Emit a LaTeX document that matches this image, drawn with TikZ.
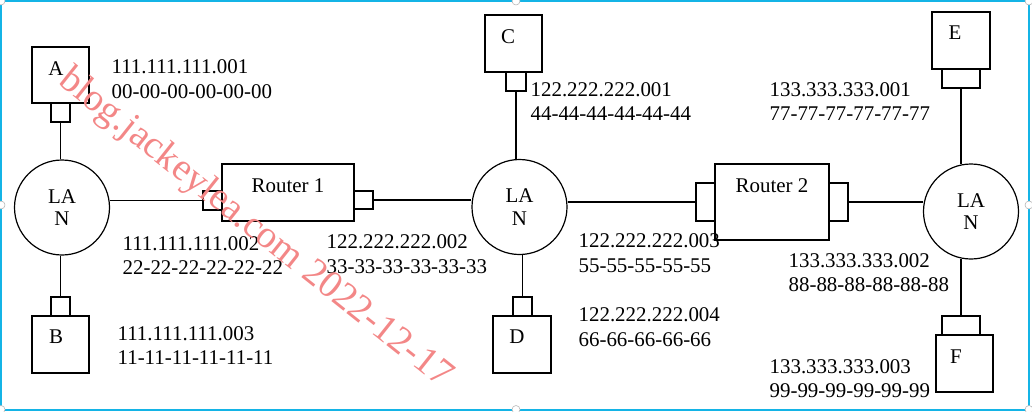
\documentclass[tikz,border=0pt]{standalone}
\usepackage{fontspec}
\setmainfont{Liberation Serif}
\usetikzlibrary{fit}
\definecolor{framec}{RGB}{20,180,230}
\definecolor{wmc}{RGB}{243,135,135}
\begin{document}
\begin{tikzpicture}[x=0.75pt,y=-0.75pt,line width=0.9pt,
  box/.style={draw,rectangle,inner sep=0pt},
  lan/.style={draw,circle,minimum size=71.25pt,inner sep=0pt,align=center,
    font=\fontsize{15.7}{17}\selectfont},
  txt/.style={inner sep=0pt,font=\fontsize{15.7}{18.5}\selectfont},
  addr/.style={txt,anchor=west,align=left},
  handle/.style={circle,fill=white,draw=gray!60,line width=0.4pt,minimum size=6pt,inner sep=0pt}]
\useasboundingbox (0,0) rectangle (1032,411);
% selection frame
\draw[framec,line width=1.5pt] (1,1) rectangle (1029,409.5);
\node[handle] (h1) at (1,1) {};
\node[handle] (h2) at (516,1) {};
\node[handle] (h3) at (1029,1) {};
\node[handle] (h4) at (1,205) {};
\node[handle] (h5) at (1029,205) {};
\node[handle] (h6) at (1,409.5) {};
\node[handle] (h7) at (516,409.5) {};
\node[handle] (h8) at (1029,409.5) {};
% hosts
\node[box,fit={(32,47) (89,103)}] (A) {};
\node[box,fit={(51,103) (70,122)}] (Ap) {};
\node[box,fit={(32,316) (89,373)}] (B) {};
\node[box,fit={(51,297) (70,316)}] (Bp) {};
\node[box,fit={(485,15) (542,72)}] (C) {};
\node[box,fit={(506,72) (526,91)}] (Cp) {};
\node[box,fit={(493,316) (551,373)}] (D) {};
\node[box,fit={(513,297) (532,316)}] (Dp) {};
\node[box,fit={(932,12) (990,69)}] (E) {};
\node[box,fit={(942,69) (980,88)}] (Ep) {};
\node[box,fit={(936,335) (993,392)}] (F) {};
\node[box,fit={(942,316) (980,335)}] (Fp) {};
\node[txt] (tA) at (56,69) {A};
\node[txt] (tB) at (56,337) {B};
\node[txt] (tC) at (508,37) {C};
\node[txt] (tD) at (517,337) {D};
\node[txt] (tE) at (955,33) {E};
\node[txt] (tF) at (956,357) {F};
% routers
\node[box,fit={(222,164) (354,221)}] (R1) {};
\node[box,fit={(203,191) (222,210)}] (R1a) {};
\node[box,fit={(354,191) (373,209)}] (R1b) {};
\node[txt] (tR1) at (288,186) {Router 1};
\node[box,fit={(715,164) (829,240)}] (R2) {};
\node[box,fit={(696,183) (715,221)}] (R2a) {};
\node[box,fit={(829,183) (848,221)}] (R2b) {};
\node[txt] (tR2) at (772,186) {Router 2};
% LANs
\node[lan] (L1) at (62,207.5) {LA\\N};
\node[lan] (L2) at (519.5,207) {LA\\N};
\node[lan] (L3) at (971,211.5) {LA\\N};
% links
\draw (Ap.south) -- (Ap.south |- L1.north);
\draw (Bp.north) -- (Bp.north |- L1.south);
\draw (R1a.west) -- (R1a.west -| L1.east);
\draw (R1b.east) -- (R1b.east -| L2.west);
\draw (Cp.south) -- (Cp.south |- L2.north);
\draw (Dp.north) -- (Dp.north |- L2.south);
\draw (L2.east |- R2a.west) -- (R2a.west);
\draw (R2b.east) -- (R2b.east -| L3.west);
\draw (Ep.south) -- ([yshift=-0.8pt]Ep.south |- L3.north);
\draw (Fp.north) -- ([yshift=0.8pt]Fp.north |- L3.south);
% addresses
\node[addr] (a1) at (111,79) {111.111.111.001\\00-00-00-00-00-00};
\node[addr] (a2) at (122,255.5) {111.111.111.002\\22-22-22-22-22-22};
\node[addr] (a3) at (117,345.5) {111.111.111.003\\11-11-11-11-11-11};
\node[addr] (a4) at (326,254) {122.222.222.002\\33-33-33-33-33-33};
\node[addr] (a5) at (530,101.5) {122.222.222.001\\44-44-44-44-44-44};
\node[addr] (a6) at (578,253) {122.222.222.003\\55-55-55-55-55};
\node[addr] (a7) at (578,327) {122.222.222.004\\66-66-66-66-66};
\node[addr] (a8) at (769,101.5) {133.333.333.001\\77-77-77-77-77-77};
\node[addr] (a9) at (788,272.5) {133.333.333.002\\88-88-88-88-88-88};
\node[addr] (a10) at (769,378.5) {133.333.333.003\\99-99-99-99-99-99};
% watermark
\node[txt,text=wmc,rotate=-38.5,font=\fontsize{29}{31}\selectfont] (wm) at (255,229) {blog.jackeylea.com 2022-12-17};
\end{tikzpicture}
\end{document}
